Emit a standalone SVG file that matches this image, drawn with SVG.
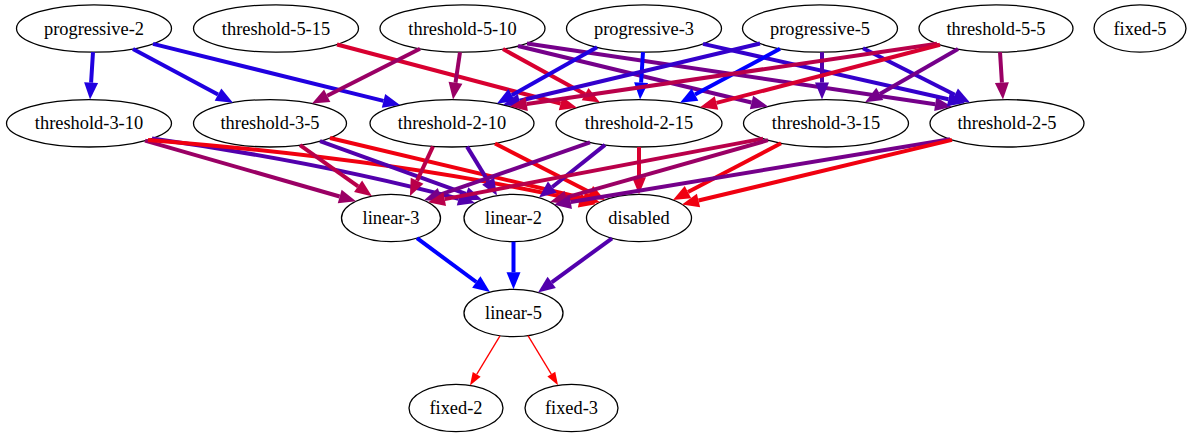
<svg xmlns="http://www.w3.org/2000/svg" width="1190" height="434" viewBox="0 0 1190 434">
<style>
.node ellipse{fill:#fff;stroke:#000;stroke-width:1.3}
.node text{font-family:"Liberation Serif","Times New Roman",serif;font-size:18.4px;text-anchor:middle;fill:#000}
.e{fill:none;stroke-width:4}
.thin{stroke-width:1.3}
.cb0{stroke:#0000ff;marker-end:url(#a-cb0)}
.cb1{stroke:#2000e0;marker-end:url(#a-cb1)}
.cb2{stroke:#3300cc;marker-end:url(#a-cb2)}
.cp1{stroke:#5200ad;marker-end:url(#a-cp1)}
.cp2{stroke:#75008a;marker-end:url(#a-cp2)}
.cm1{stroke:#9a0065;marker-end:url(#a-cm1)}
.cm2{stroke:#b9004a;marker-end:url(#a-cm2)}
.cc{stroke:#d80030;marker-end:url(#a-cc)}
.cr{stroke:#f00010;marker-end:url(#a-cr)}
.cth{stroke:#ff0000;marker-end:url(#a-cth)}
</style>
<defs>
<marker id="a-cb0" markerUnits="userSpaceOnUse" markerWidth="18" markerHeight="14" refX="0" refY="7" orient="auto" overflow="visible"><path d="M0,0 L17,7 L0,14 z" fill="#0000ff"/></marker>
<marker id="a-cb1" markerUnits="userSpaceOnUse" markerWidth="18" markerHeight="14" refX="0" refY="7" orient="auto" overflow="visible"><path d="M0,0 L17,7 L0,14 z" fill="#2000e0"/></marker>
<marker id="a-cb2" markerUnits="userSpaceOnUse" markerWidth="18" markerHeight="14" refX="0" refY="7" orient="auto" overflow="visible"><path d="M0,0 L17,7 L0,14 z" fill="#3300cc"/></marker>
<marker id="a-cp1" markerUnits="userSpaceOnUse" markerWidth="18" markerHeight="14" refX="0" refY="7" orient="auto" overflow="visible"><path d="M0,0 L17,7 L0,14 z" fill="#5200ad"/></marker>
<marker id="a-cp2" markerUnits="userSpaceOnUse" markerWidth="18" markerHeight="14" refX="0" refY="7" orient="auto" overflow="visible"><path d="M0,0 L17,7 L0,14 z" fill="#75008a"/></marker>
<marker id="a-cm1" markerUnits="userSpaceOnUse" markerWidth="18" markerHeight="14" refX="0" refY="7" orient="auto" overflow="visible"><path d="M0,0 L17,7 L0,14 z" fill="#9a0065"/></marker>
<marker id="a-cm2" markerUnits="userSpaceOnUse" markerWidth="18" markerHeight="14" refX="0" refY="7" orient="auto" overflow="visible"><path d="M0,0 L17,7 L0,14 z" fill="#b9004a"/></marker>
<marker id="a-cc" markerUnits="userSpaceOnUse" markerWidth="18" markerHeight="14" refX="0" refY="7" orient="auto" overflow="visible"><path d="M0,0 L17,7 L0,14 z" fill="#d80030"/></marker>
<marker id="a-cr" markerUnits="userSpaceOnUse" markerWidth="18" markerHeight="14" refX="0" refY="7" orient="auto" overflow="visible"><path d="M0,0 L17,7 L0,14 z" fill="#f00010"/></marker>
<marker id="a-cth" markerUnits="userSpaceOnUse" markerWidth="14" markerHeight="10" refX="0" refY="5" orient="auto" overflow="visible"><path d="M0,0.4 L13,5 L0,9.6 z" fill="#ff0000"/></marker>
</defs>
<rect width="1190" height="434" fill="#fff"/>
<g id="nodes">
<g id="progressive-2" class="node"><ellipse cx="94" cy="28.5" rx="77.5" ry="23.7"/><text x="94" y="34.5">progressive-2</text></g>
<g id="threshold-5-15" class="node"><ellipse cx="276" cy="28.5" rx="82.5" ry="23.7"/><text x="276" y="34.5">threshold-5-15</text></g>
<g id="threshold-5-10" class="node"><ellipse cx="462.5" cy="28.5" rx="82.5" ry="23.7"/><text x="462.5" y="34.5">threshold-5-10</text></g>
<g id="progressive-3" class="node"><ellipse cx="644" cy="28.5" rx="77.5" ry="23.7"/><text x="644" y="34.5">progressive-3</text></g>
<g id="progressive-5" class="node"><ellipse cx="820" cy="28.5" rx="77.5" ry="23.7"/><text x="820" y="34.5">progressive-5</text></g>
<g id="threshold-5-5" class="node"><ellipse cx="996" cy="28.5" rx="77" ry="23.7"/><text x="996" y="34.5">threshold-5-5</text></g>
<g id="fixed-5" class="node"><ellipse cx="1140" cy="28.5" rx="46" ry="23.7"/><text x="1140" y="34.5">fixed-5</text></g>
<g id="threshold-3-10" class="node"><ellipse cx="89" cy="123.3" rx="82.5" ry="23.7"/><text x="89" y="129.3">threshold-3-10</text></g>
<g id="threshold-3-5" class="node"><ellipse cx="270" cy="123.3" rx="76.5" ry="23.7"/><text x="270" y="129.3">threshold-3-5</text></g>
<g id="threshold-2-10" class="node"><ellipse cx="452" cy="123.3" rx="82" ry="23.7"/><text x="452" y="129.3">threshold-2-10</text></g>
<g id="threshold-2-15" class="node"><ellipse cx="639" cy="123.3" rx="83" ry="23.7"/><text x="639" y="129.3">threshold-2-15</text></g>
<g id="threshold-3-15" class="node"><ellipse cx="826" cy="123.3" rx="82.5" ry="23.7"/><text x="826" y="129.3">threshold-3-15</text></g>
<g id="threshold-2-5" class="node"><ellipse cx="1007" cy="123.3" rx="77" ry="23.7"/><text x="1007" y="129.3">threshold-2-5</text></g>
<g id="linear-3" class="node"><ellipse cx="391" cy="218" rx="49.5" ry="23.7"/><text x="391" y="224">linear-3</text></g>
<g id="linear-2" class="node"><ellipse cx="513.5" cy="218" rx="49.5" ry="23.7"/><text x="513.5" y="224">linear-2</text></g>
<g id="disabled" class="node"><ellipse cx="639" cy="218" rx="52.5" ry="23.7"/><text x="639" y="224">disabled</text></g>
<g id="linear-5" class="node"><ellipse cx="513.5" cy="313" rx="49.5" ry="23.7"/><text x="513.5" y="319">linear-5</text></g>
<g id="fixed-2" class="node"><ellipse cx="456" cy="408" rx="47" ry="23.7"/><text x="456" y="414">fixed-2</text></g>
<g id="fixed-3" class="node"><ellipse cx="571.5" cy="408" rx="46.5" ry="23.7"/><text x="571.5" y="414">fixed-3</text></g>
</g>
<g id="edges">
<path class="e cb1" d="M93,52.2 L91.1,82.6"/>
<path class="e cb1" d="M133,49 L218,94.6"/>
<path class="e cb1" d="M153,43.9 L383.5,100.9"/>
<path class="e cc" d="M337,44.5 L560.6,103.5"/>
<path class="e cm1" d="M420,48.8 L327.2,95.8"/>
<path class="e cm1" d="M460,52.2 L455.5,82.8"/>
<path class="e cc" d="M503,49.1 L585.1,94.2"/>
<path class="e cp2" d="M518,46 L751.5,102.5"/>
<path class="e cp2" d="M527,43.4 L935.2,104.2"/>
<path class="e cb1" d="M597,47.3 L511.8,95.2"/>
<path class="e cb0" d="M643,52.2 L641.1,82.6"/>
<path class="e cb2" d="M703,43.9 L948.4,99.3"/>
<path class="e cb2" d="M760,43.5 L519.5,100.8"/>
<path class="e cb0" d="M780,48.8 L695,94.6"/>
<path class="e cp1" d="M822,52.2 L822,82.6"/>
<path class="e cb2" d="M863,48.2 L954.8,94.8"/>
<path class="e cm2" d="M937,43.7 L526.8,104"/>
<path class="e cc" d="M940,44.8 L716.5,102.9"/>
<path class="e cp2" d="M958,49.1 L879.8,93.9"/>
<path class="e cm1" d="M1000,52.2 L1001.9,82.6"/>
<path class="e cm1" d="M145,140.7 L339.7,196.5"/>
<path class="e cp1" d="M152,138.6 Q320,162 458.6,198.7"/>
<path class="e cr" d="M148,139.9 Q400,160 579.4,200.6"/>
<path class="e cm2" d="M300,145.1 L358.1,186.3"/>
<path class="e cp1" d="M320,141.2 L466,193.9"/>
<path class="e cr" d="M330,138 L583.5,198.2"/>
<path class="e cm2" d="M433,146.4 L417.1,180.7"/>
<path class="e cp1" d="M467,146.6 L488.1,181.1"/>
<path class="e cr" d="M495,143.5 L589.9,192.2"/>
<path class="e cp2" d="M590,142.4 L440.1,194.7"/>
<path class="e cp1" d="M605,144.9 L552.3,187"/>
<path class="e cc" d="M639,147 L639,177.3"/>
<path class="e cm2" d="M763,138.6 L444.7,199.1"/>
<path class="e cm1" d="M768,140.2 L566.4,197.4"/>
<path class="e cr" d="M781,143.2 L688,192.1"/>
<path class="e cp2" d="M950,139.2 L570.8,202"/>
<path class="e cr" d="M952,139.9 L698.5,200.5"/>
<path class="e cb0" d="M417,238.2 L476.3,282"/>
<path class="e cb0" d="M513.5,241.7 L513.5,272.3"/>
<path class="e cp1" d="M612,238.3 L551.7,282.4"/>
<path class="e thin cth" d="M500,335.8 L476.7,374.3"/>
<path class="e thin cth" d="M528,335.7 L551.3,374.2"/>
</g>
</svg>
